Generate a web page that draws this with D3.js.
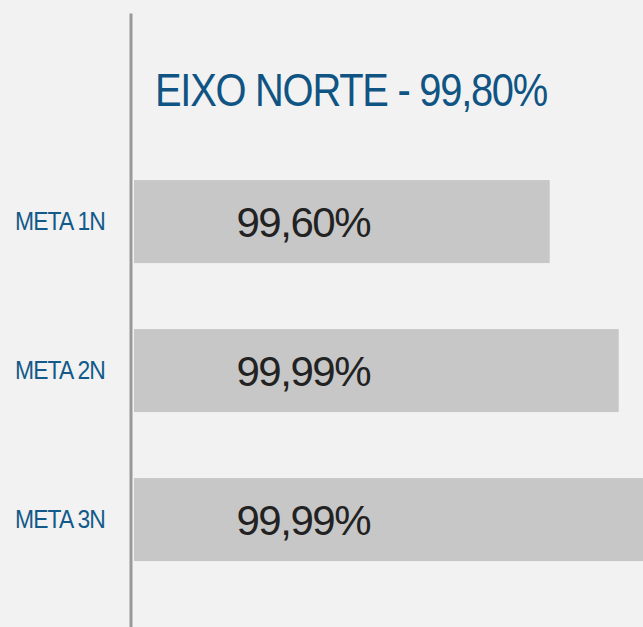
<!DOCTYPE html>
<html>
<head>
<meta charset="utf-8">
<script src="https://cdn.jsdelivr.net/npm/d3@7"></script>
<style>
  html, body { margin: 0; padding: 0; background: #f2f2f2; overflow: hidden; }
  svg { display: block; font-family: "Liberation Sans", Arial, sans-serif; }
</style>
</head>
<body>
<script>
// chart values
var categories = ["META 1N", "META 2N", "META 3N"];
var barValues = [99.60, 99.99, 100.20];        // bar 3 runs off the right edge
var valueLabels = ["99,60%", "99,99%", "99,99%"];
var title = "EIXO NORTE - 99,80%";

var width = 643, height = 627;

var svg = d3.select("body").append("svg")
            .attr("width", width)
            .attr("height", height);

svg.append("rect")
   .attr("width", width)
   .attr("height", height)
   .attr("fill", "#f2f2f2");

var x = d3.scaleLinear()
          .domain([97.25, 100])
          .range([134, 620.5]);

var y = d3.scaleBand()
          .domain(categories)
          .range([13, 627])
          .paddingInner(0.443)
          .paddingOuter(0.782)
          .align(0.717);

// bars
svg.selectAll("rect.bar")
   .data(barValues)
   .enter()
   .append("rect")
   .attr("class", "bar")
   .attr("x", x(97.25))
   .attr("y", function (d, i) { return y(categories[i]); })
   .attr("width", function (d) { return x(d) - x(97.25); })
   .attr("height", y.bandwidth())
   .attr("fill", "#c7c7c7");

// value labels inside bars
svg.selectAll("text.val")
   .data(valueLabels)
   .enter()
   .append("text")
   .attr("class", "val")
   .attr("x", 304)
   .attr("y", function (d, i) { return y(categories[i]) + y.bandwidth() / 2; })
   .attr("dy", "0.36em")
   .attr("text-anchor", "middle")
   .attr("font-family", "Liberation Sans, Arial, sans-serif")
   .attr("font-size", 42)
   .attr("textLength", 135)
   .attr("lengthAdjust", "spacing")
   .attr("fill", "#222222")
   .text(function (d) { return d; });

// category axis
var axis = svg.append("g")
              .attr("transform", "translate(130.5,0)")
              .call(d3.axisLeft(y).tickSize(0).tickSizeOuter(0).tickPadding(25.5));

axis.select(".domain")
    .attr("stroke", "#999999")
    .attr("stroke-width", 3);

axis.selectAll(".tick text")
    .attr("font-family", "Liberation Sans, Arial, sans-serif")
    .attr("font-size", 26)
    .attr("letter-spacing", -1)
    .attr("fill", "#135a8a")
    .attr("textLength", 90)
    .attr("lengthAdjust", "spacingAndGlyphs");

// title
svg.append("text")
   .attr("x", 155)
   .attr("y", 106)
   .attr("font-family", "Liberation Sans, Arial, sans-serif")
   .attr("font-size", 47)
   .attr("letter-spacing", -1.5)
   .attr("textLength", 392)
   .attr("lengthAdjust", "spacingAndGlyphs")
   .attr("fill", "#0f5483")
   .text(title);
</script>
</body>
</html>
